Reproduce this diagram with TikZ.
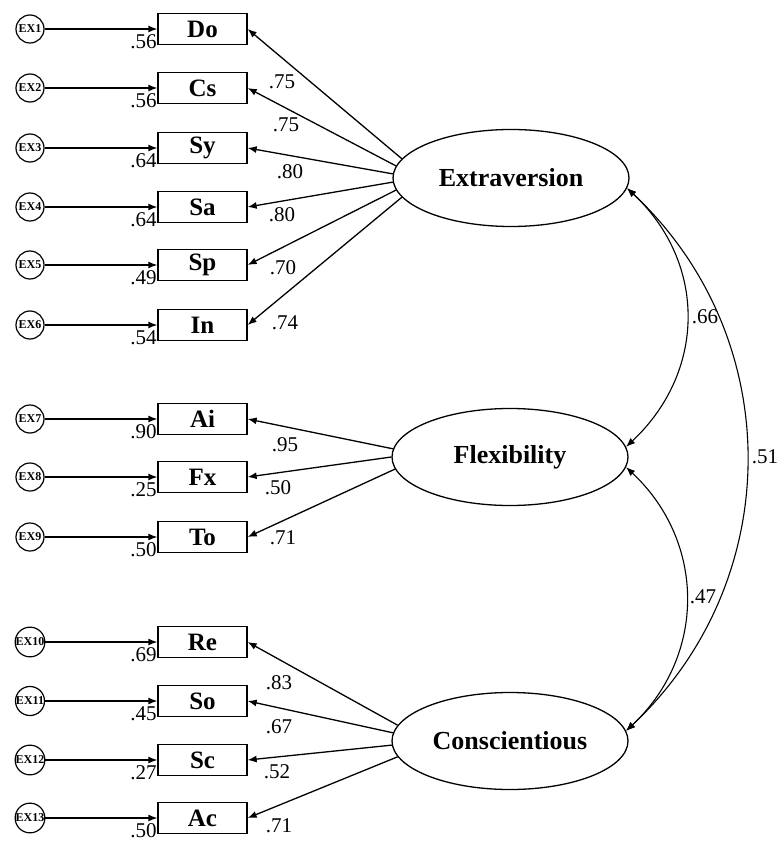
\documentclass[tikz,border=0pt]{standalone}
\usepackage{fontspec}
\setmainfont{Liberation Serif}
\usepackage{tikz}
\usetikzlibrary{arrows.meta,positioning,shapes.geometric}

\begin{document}
\begin{tikzpicture}[
  x=1pt, y=-1pt,
  box/.style={draw, line width=1.3pt, minimum width=89pt, minimum height=31pt, inner sep=0pt,
              font=\fontsize{25}{25}\selectfont\bfseries},
  latent/.style={draw, ellipse, line width=1.3pt, minimum width=236pt, minimum height=97pt,
                 inner sep=0pt, font=\fontsize{26}{26}\selectfont\bfseries},
  resid/.style={draw, circle, line width=1.2pt, minimum size=28pt, inner sep=0pt,
                font=\fontsize{12}{12}\selectfont\bfseries},
  num/.style={inner sep=0.5pt, font=\fontsize{21}{21}\selectfont},
  arrow/.style={-{Latex[length=9pt,width=7pt]}, line width=1.3pt},
  corr/.style={{Latex[length=9pt,width=7pt]}-{Latex[length=9pt,width=7pt]}, line width=1.1pt}
]
  \useasboundingbox (0,0) rectangle (781,842);

  % latent factors
  \node[latent] (ext) at (511,178) {Extraversion};
  \node[latent] (flex) at (510,457) {Flexibility};
  \node[latent] (consc) at (510,741) {Conscientious};

  % indicators
  \node[box] (do) at (202.5,29) {Do};
  \node[box] (cs) at (202.5,88) {Cs};
  \node[box] (sy) at (202.5,148) {Sy};
  \node[box] (sa) at (202.5,207) {Sa};
  \node[box] (sp) at (202.5,265) {Sp};
  \node[box] (inn) at (202.5,325) {In};
  \node[box] (ai) at (202.5,419) {Ai};
  \node[box] (fx) at (202.5,477) {Fx};
  \node[box] (tol) at (202.5,537) {To};
  \node[box] (re) at (202.5,642) {Re};
  \node[box] (so) at (202.5,701) {So};
  \node[box] (sc) at (202.5,760) {Sc};
  \node[box] (ac) at (202.5,818) {Ac};

  % residuals
  \node[resid] (ex1) at (30,29) {EX1};
  \node[resid] (ex2) at (30,88) {EX2};
  \node[resid] (ex3) at (30,148) {EX3};
  \node[resid] (ex4) at (30,207) {EX4};
  \node[resid] (ex5) at (30,265) {EX5};
  \node[resid] (ex6) at (30,325) {EX6};
  \node[resid] (ex7) at (30,419) {EX7};
  \node[resid] (ex8) at (30,477) {EX8};
  \node[resid] (ex9) at (30,537) {EX9};
  \node[resid] (ex10) at (30,642) {EX10};
  \node[resid] (ex11) at (30,701) {EX11};
  \node[resid] (ex12) at (30,760) {EX12};
  \node[resid] (ex13) at (30,818) {EX13};

  \draw[arrow] (ex1) -- (do);
  \draw[arrow] (ex2) -- (cs);
  \draw[arrow] (ex3) -- (sy);
  \draw[arrow] (ex4) -- (sa);
  \draw[arrow] (ex5) -- (sp);
  \draw[arrow] (ex6) -- (inn);
  \draw[arrow] (ex7) -- (ai);
  \draw[arrow] (ex8) -- (fx);
  \draw[arrow] (ex9) -- (tol);
  \draw[arrow] (ex10) -- (re);
  \draw[arrow] (ex11) -- (so);
  \draw[arrow] (ex12) -- (sc);
  \draw[arrow] (ex13) -- (ac);

  % error variances
  \node[num, anchor=base east] (v1) at ([yshift=-3pt]do.south west) {.56};
  \node[num, anchor=base east] (v2) at ([yshift=-3pt]cs.south west) {.56};
  \node[num, anchor=base east] (v3) at ([yshift=-3pt]sy.south west) {.64};
  \node[num, anchor=base east] (v4) at ([yshift=-3pt]sa.south west) {.64};
  \node[num, anchor=base east] (v5) at ([yshift=-3pt]sp.south west) {.49};
  \node[num, anchor=base east] (v6) at ([yshift=-3pt]inn.south west) {.54};
  \node[num, anchor=base east] (v7) at ([yshift=-3pt]ai.south west) {.90};
  \node[num, anchor=base east] (v8) at ([yshift=-3pt]fx.south west) {.25};
  \node[num, anchor=base east] (v9) at ([yshift=-3pt]tol.south west) {.50};
  \node[num, anchor=base east] (v10) at ([yshift=-3pt]re.south west) {.69};
  \node[num, anchor=base east] (v11) at ([yshift=-3pt]so.south west) {.45};
  \node[num, anchor=base east] (v12) at ([yshift=-3pt]sc.south west) {.27};
  \node[num, anchor=base east] (v13) at ([yshift=-3pt]ac.south west) {.50};

  % loadings
  \draw[arrow] (ext.170) -- (do.east);
  \draw[arrow] (ext.174) -- (cs.east);
  \draw[arrow] (ext.178) -- (sy.east);
  \draw[arrow] (ext.182) -- (sa.east);
  \draw[arrow] (ext.186) -- (sp.east);
  \draw[arrow] (ext.190) -- (inn.east);
  \draw[arrow] (flex.176) -- (ai.east);
  \draw[arrow] (flex.180) -- (fx.east);
  \draw[arrow] (flex.186) -- (tol.east);
  \draw[arrow] (consc.172) -- (re.east);
  \draw[arrow] (consc.176) -- (so.east);
  \draw[arrow] (consc.182) -- (sc.east);
  \draw[arrow] (consc.188) -- (ac.east);

  \node[num] (l1) at (282,82) {.75};
  \node[num] (l2) at (286,125) {.75};
  \node[num] (l3) at (290,172) {.80};
  \node[num] (l4) at (282,215) {.80};
  \node[num] (l5) at (283,268) {.70};
  \node[num] (l6) at (285,323) {.74};
  \node[num] (l7) at (285,445) {.95};
  \node[num] (l8) at (278,488) {.50};
  \node[num] (l9) at (283,538) {.71};
  \node[num] (l10) at (279,683) {.83};
  \node[num] (l11) at (279,727) {.67};
  \node[num] (l12) at (277,772) {.52};
  \node[num] (l13) at (279,826) {.71};

  % correlations
  \draw[corr] (ext.-5) .. controls +(80,75) and +(80,-75) .. (flex.5);
  \draw[corr] (ext.-5) .. controls +(160,150) and +(160,-150) .. (consc.5);
  \draw[corr] (flex.-5) .. controls +(80,75) and +(80,-75) .. (consc.5);
  \node[num] (r1) at (705,317) {.66};
  \node[num] (r2) at (765,457) {.51};
  \node[num] (r3) at (703,597) {.47};
\end{tikzpicture}
\end{document}
